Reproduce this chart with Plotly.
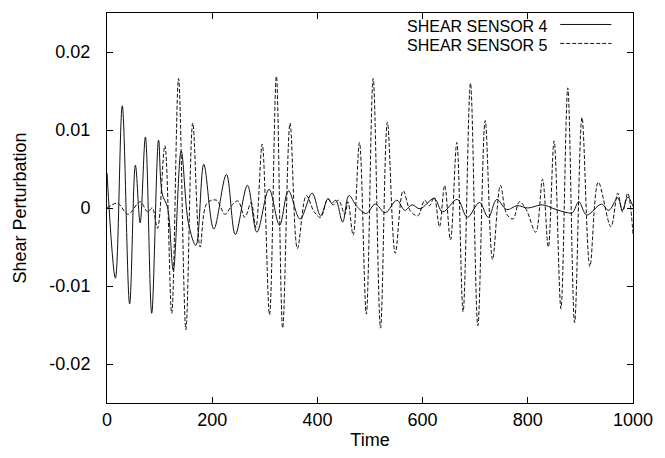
import plotly.graph_objects as go

# Sensor 4 (solid) - keypoints (time, shear perturbation)
t4 = [0, 16, 29, 43, 54, 63, 73, 85, 98, 105, 115, 126, 141, 155, 169, 184, 203, 227, 244, 267, 285,
      308, 328, 345, 367, 390, 406, 420, 427, 435, 448, 460, 475, 493, 510, 529, 551, 566, 580, 595,
      622, 638, 666, 685, 708, 725, 741, 760, 780, 800, 828, 850, 875, 885, 897, 912, 940, 954, 971,
      980, 990, 1000]
y4 = [0.0045, -0.0090, 0.0131, -0.0123, 0.0055, -0.0019, 0.0091, -0.0135, 0.0087, 0.0018, 0.0001,
      -0.0080, 0.0073, -0.0020, -0.0048, 0.0056, -0.0027, 0.0043, -0.0034, 0.0029, -0.0031,
      0.0024, -0.0022, 0.0022, -0.0014, 0.0019, -0.0010, 0.0012, 0.0006, 0.0010, -0.0018, 0.0016,
      0.0002, -0.0007, 0.0005, -0.0006, 0.0010, -0.0003, 0.0004, -0.0001,
      0.0012, -0.0005, 0.0011, -0.0012, 0.0007, -0.0012, 0.0011, -0.0002, 0.0003, 0.0000, 0.0004,
      -0.0001, -0.0006, -0.0006, 0.0008, -0.0009, 0.0005, -0.0003, 0.0013, -0.0003, 0.0014, 0.0002]

# Sensor 5 (dashed)
t5 = [0, 20, 40, 63, 77, 86, 96, 110, 123, 136, 150, 163, 177, 190, 208, 224, 238, 249, 262, 274, 283,
      295, 309, 322, 334, 348, 362, 379, 394, 406, 420, 430, 440, 452, 458, 468, 480, 493, 506, 520,
      533, 548, 563, 577, 591, 604, 613, 622, 632, 642, 653, 665, 677, 691, 705, 719, 733, 748, 760,
      772, 784, 797, 815, 828, 839, 850, 863, 876, 889, 903, 918, 934, 958, 971, 980, 990, 1000]
y5 = [0.0000, 0.0006, -0.0008, 0.0008, -0.0005, 0.0000, -0.0026, 0.0080, -0.0135, 0.0166, -0.0156,
      0.0109, -0.0050, 0.0006, 0.0010, -0.0008, 0.0004, 0.0009, -0.0012, 0.0007, -0.0025,
      0.0082, -0.0137, 0.0169, -0.0154, 0.0109, -0.0052, 0.0016, -0.0005, -0.0012, 0.0012, 0.0004,
      0.0010, -0.0008, 0.0008, -0.0035, 0.0084, -0.0136, 0.0166, -0.0154,
      0.0110, -0.0058, 0.0022, -0.0004, -0.0010, 0.0010, 0.0003, 0.0014, -0.0024, 0.0029, -0.0041,
      0.0084, -0.0133, 0.0160, -0.0151, 0.0112, -0.0066, 0.0029, -0.0008,
      -0.0014, 0.0008, -0.0002, -0.0031, 0.0037, -0.0050, 0.0086, -0.0129, 0.0154, -0.0147, 0.0116,
      -0.0075, 0.0033, -0.0024, 0.0019, -0.0005, 0.0019, -0.0033]

x_ticks = [0, 200, 400, 600, 800, 1000]
y_ticks = [-0.02, -0.01, 0, 0.01, 0.02]
y_tick_labels = ["-0.02", "-0.01", "0", "0.01", "0.02"]
series_names = ["SHEAR SENSOR 4", "SHEAR SENSOR 5"]

FONT = "Liberation Sans, Arial, Helvetica, sans-serif"

# figure geometry (pixels)
W, H = 665, 458
L, R, T, B = 107, 23, 12, 55
PW, PH = W - L - R, H - T - B


def px_x(px):
    return (px - L) / PW


def px_y(py):
    return (H - B - py) / PH


fig = go.Figure()
fig.add_trace(go.Scatter(x=t4, y=y4, mode="lines", name=series_names[0], showlegend=False,
                         line=dict(color="#111111", width=1, shape="spline", smoothing=1.0)))
fig.add_trace(go.Scatter(x=t5, y=y5, mode="lines", name=series_names[1], showlegend=False,
                         line=dict(color="#111111", width=1, dash="4px,2px", shape="spline", smoothing=1.0)))

# Legend drawn as text + sample lines (gnuplot style, tight rows)
text_y = [25.5, 44.5]
line_y = [23.5, 42.5]
dashes = ["solid", "4px,2px"]
for name, ty, ly, d in zip(series_names, text_y, line_y, dashes):
    fig.add_annotation(x=px_x(557), y=px_y(ty), xref="paper", yref="paper",
                       xanchor="right", yanchor="middle", text=name, showarrow=False,
                       borderpad=0,
                       font=dict(family=FONT, size=16, color="black"))
    fig.add_shape(type="line", xref="paper", yref="paper",
                  x0=px_x(568), x1=px_x(620), y0=px_y(ly), y1=px_y(ly),
                  line=dict(color="#111111", width=1, dash=d))

axis_common = dict(showline=True, linecolor="black", linewidth=1, mirror="ticks",
                   ticks="inside", ticklen=6, tickcolor="black", showgrid=False, zeroline=False,
                   tickfont=dict(family=FONT, size=18, color="black"))

fig.update_xaxes(range=[0, 1000], tickvals=x_ticks, ticktext=[str(v) for v in x_ticks],
                 title=dict(text="Time", font=dict(family=FONT, size=18, color="black"), standoff=4),
                 **axis_common)
fig.update_yaxes(range=[-0.025, 0.025], tickvals=y_ticks, ticktext=y_tick_labels,
                 title=dict(text="Shear Perturbation", font=dict(family=FONT, size=18, color="black"), standoff=18),
                 ticklabelstandoff=12,
                 **axis_common)

fig.update_layout(width=W, height=H, margin=dict(l=L, r=R, t=T, b=B, pad=0),
                  paper_bgcolor="white", plot_bgcolor="white",
                  font=dict(family=FONT, size=18, color="black"))

fig.write_html("out.html")
